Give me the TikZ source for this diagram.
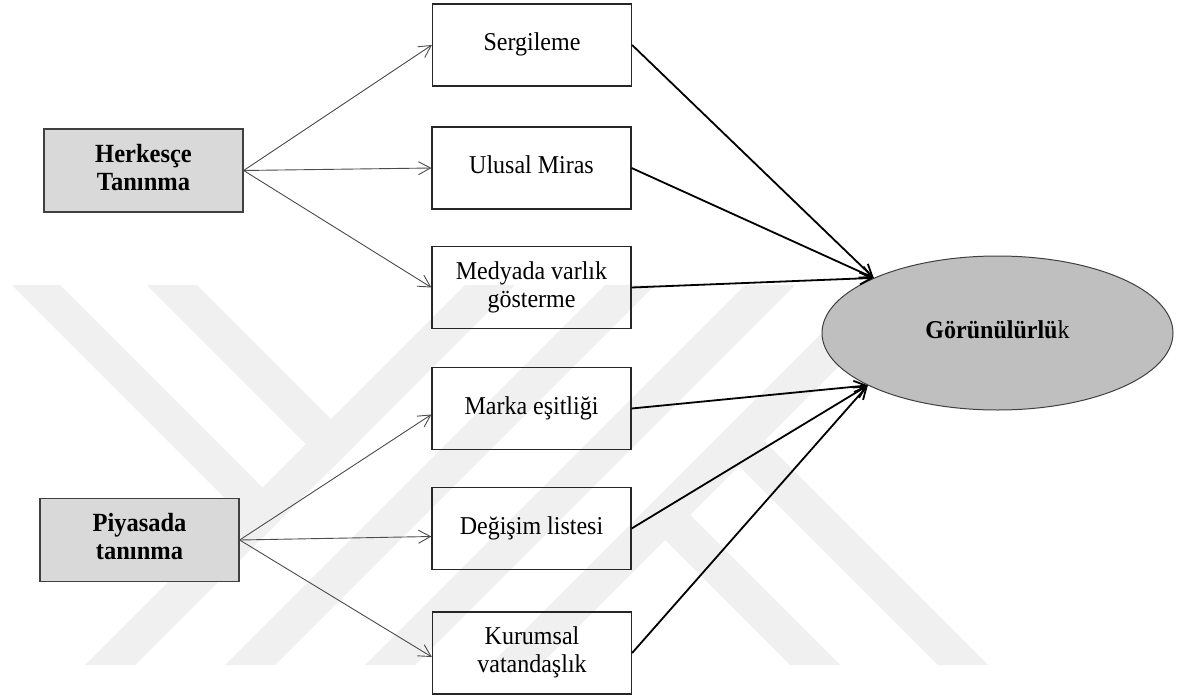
\documentclass[tikz,border=0pt]{standalone}
\usepackage{fontspec}
\usepackage{graphicx}
\setmainfont{Liberation Serif}
\usetikzlibrary{arrows.meta,shapes.geometric}

\definecolor{wm}{RGB}{240,240,240}
\definecolor{boxgray}{RGB}{217,217,217}
\definecolor{ellgray}{RGB}{191,191,191}
\definecolor{edgegray}{RGB}{64,64,64}

% slightly tall lettering, one or more centred lines
\newcommand{\talltext}[1]{\scalebox{1}[1.07]{\begin{tabular}{@{}c@{}}#1\end{tabular}}}

\begin{document}
\begin{tikzpicture}[x=1pt,y=-1pt,
  lbl/.style={font=\fontsize{24}{26.2}\selectfont},
  srcbox/.style={font=\fontsize{24.5}{26.2}\selectfont\bfseries,
    draw=edgegray, line width=1.3pt, fill=boxgray,
    minimum width=199pt, minimum height=83pt, inner sep=0pt},
  itembox/.style={lbl, draw=black!85, line width=1.2pt,
    minimum width=199pt, minimum height=82pt, inner sep=0pt},
  inarrow/.style={draw=black!70, line width=0.9pt,
    -{Straight Barb[length=12pt,width=13pt]}},
  outarrow/.style={draw=black, line width=1.8pt,
    -{Straight Barb[length=12pt,width=12pt]}},
]
\useasboundingbox (0,0) rectangle (1184,699);
\fill[white] (0,0) rectangle (1184,699);

% faint emblem in the background
\begin{scope}[fill=wm]
  \fill (12,285) -- (60,285) -- (287.5,512.5) -- (263.5,536.5) -- cycle;
  \fill (147,285) -- (197,285) -- (356,444) -- (331,469) -- cycle;
  \fill (85,665) -- (135,665) -- (515,285) -- (465,285) -- cycle;
  \fill (225,665) -- (275,665) -- (655,285) -- (605,285) -- cycle;
  \fill (365,665) -- (415,665) -- (795,285) -- (745,285) -- cycle;
  \fill (490,665) -- (540,665) -- (920,285) -- (870,285) -- cycle;
  \fill (652.5,527.5) -- (677.5,502.5) -- (840,665) -- (790,665) -- cycle;
  \fill (726.5,453.5) -- (751.5,428.5) -- (988,665) -- (938,665) -- cycle;
\end{scope}

% sources
\node[srcbox] (H) at (143.5,170.5) {\talltext{Herkesçe\\Tanınma}};
\node[srcbox] (P) at (139.5,540) {\talltext{Piyasada\\tanınma}};

% indicators
\node[itembox] (S) at (532,45)      {\talltext{Sergileme}};
\node[itembox] (U) at (531.5,168)   {\talltext{Ulusal Miras}};
\node[itembox] (M) at (531.5,287.5) {\talltext{Medyada varlık\\gösterme}};
\node[itembox] (E) at (531.5,408.5) {\talltext{Marka eşitliği}};
\node[itembox] (D) at (531.5,528.5) {\talltext{Değişim listesi}};
\node[itembox] (K) at (532,653)     {\talltext{Kurumsal\\vatandaşlık}};

% outcome
\node[ellipse, draw=edgegray, line width=1pt, fill=ellgray,
      minimum width=351pt, minimum height=154pt, inner sep=0pt,
      font=\fontsize{24}{28}\selectfont] (G) at (997.5,333)
      {\talltext{\textbf{Görünülürlü}k}};

% source links
\draw[inarrow] (H.east) -- (S.west);
\draw[inarrow] (H.east) -- (U.west);
\draw[inarrow] (H.east) -- (M.west);
\draw[inarrow] (P.east) -- ([yshift=-6pt]E.west);
\draw[inarrow] (P.east) -- ([yshift=-8pt]D.west);
\draw[inarrow] (P.east) -- ([yshift=-4pt]K.west);

% outcome links
\draw[outarrow] (S.east) -- (G.156);
\draw[outarrow] (U.east) -- (G.156);
\draw[outarrow] (M.east) -- (G.156);
\draw[outarrow] (E.east) -- (G.202);
\draw[outarrow] (D.east) -- (G.202);
\draw[outarrow] (K.east) -- (G.202);
\end{tikzpicture}
\end{document}
